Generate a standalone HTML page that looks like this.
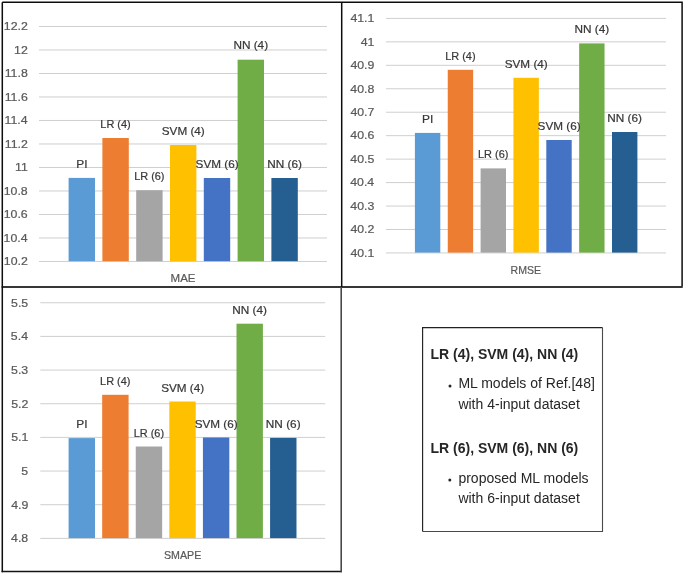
<!DOCTYPE html>
<html><head><meta charset="utf-8"><style>
html,body{margin:0;padding:0;background:#fff;width:685px;height:574px;overflow:hidden}
svg{display:block;font-family:"Liberation Sans",sans-serif;will-change:transform}
</style></head><body>
<svg width="685" height="574" viewBox="0 0 685 574">
<rect width="685" height="574" fill="#fff"/>
<line x1="39" x2="327" y1="26.48" y2="26.48" stroke="#CFCFCF" stroke-width="1"/>
<line x1="39" x2="327" y1="49.98" y2="49.98" stroke="#CFCFCF" stroke-width="1"/>
<line x1="39" x2="327" y1="73.48" y2="73.48" stroke="#CFCFCF" stroke-width="1"/>
<line x1="39" x2="327" y1="96.98" y2="96.98" stroke="#CFCFCF" stroke-width="1"/>
<line x1="39" x2="327" y1="120.48" y2="120.48" stroke="#CFCFCF" stroke-width="1"/>
<line x1="39" x2="327" y1="143.98" y2="143.98" stroke="#CFCFCF" stroke-width="1"/>
<line x1="39" x2="327" y1="167.48" y2="167.48" stroke="#CFCFCF" stroke-width="1"/>
<line x1="39" x2="327" y1="190.98" y2="190.98" stroke="#CFCFCF" stroke-width="1"/>
<line x1="39" x2="327" y1="214.48" y2="214.48" stroke="#CFCFCF" stroke-width="1"/>
<line x1="39" x2="327" y1="237.98" y2="237.98" stroke="#CFCFCF" stroke-width="1"/>
<line x1="39" x2="327" y1="261.48" y2="261.48" stroke="#CFCFCF" stroke-width="1"/>
<text x="3.82" y="30.28" font-size="11.8" fill="#595959" stroke="#595959" stroke-width="0.22" textLength="24" lengthAdjust="spacingAndGlyphs">12.2</text>
<text x="14.12" y="53.78" font-size="11.8" fill="#595959" stroke="#595959" stroke-width="0.22" textLength="13.72" lengthAdjust="spacingAndGlyphs">12</text>
<text x="4.68" y="77.28" font-size="11.8" fill="#595959" stroke="#595959" stroke-width="0.22" textLength="23.09" lengthAdjust="spacingAndGlyphs">11.8</text>
<text x="4.68" y="100.78" font-size="11.8" fill="#595959" stroke="#595959" stroke-width="0.22" textLength="23.09" lengthAdjust="spacingAndGlyphs">11.6</text>
<text x="4.47" y="124.28" font-size="11.8" fill="#595959" stroke="#595959" stroke-width="0.22" textLength="23.09" lengthAdjust="spacingAndGlyphs">11.4</text>
<text x="4.79" y="147.78" font-size="11.8" fill="#595959" stroke="#595959" stroke-width="0.22" textLength="23.09" lengthAdjust="spacingAndGlyphs">11.2</text>
<text x="14.98" y="171.28" font-size="11.8" fill="#595959" stroke="#595959" stroke-width="0.22" textLength="12.8" lengthAdjust="spacingAndGlyphs">11</text>
<text x="3.72" y="194.78" font-size="11.8" fill="#595959" stroke="#595959" stroke-width="0.22" textLength="24" lengthAdjust="spacingAndGlyphs">10.8</text>
<text x="3.72" y="218.28" font-size="11.8" fill="#595959" stroke="#595959" stroke-width="0.22" textLength="24" lengthAdjust="spacingAndGlyphs">10.6</text>
<text x="3.61" y="241.78" font-size="11.8" fill="#595959" stroke="#595959" stroke-width="0.22" textLength="24" lengthAdjust="spacingAndGlyphs">10.4</text>
<text x="3.82" y="265.28" font-size="11.8" fill="#595959" stroke="#595959" stroke-width="0.22" textLength="24" lengthAdjust="spacingAndGlyphs">10.2</text>
<rect x="68.6" y="177.9" width="26.4" height="83.3" fill="#5B9BD5"/>
<rect x="102.4" y="138" width="26.4" height="123.2" fill="#ED7D31"/>
<rect x="136.2" y="190.2" width="26.4" height="71" fill="#A5A5A5"/>
<rect x="170" y="145" width="26.4" height="116.2" fill="#FFC000"/>
<rect x="203.8" y="178" width="26.4" height="83.2" fill="#4472C4"/>
<rect x="237.6" y="59.7" width="26.4" height="201.5" fill="#70AD47"/>
<rect x="271.4" y="178" width="26.4" height="83.2" fill="#255E91"/>
<text x="76.27" y="168" font-size="11.8" fill="#383838" stroke="#383838" stroke-width="0.22" textLength="11.23" lengthAdjust="spacingAndGlyphs">PI</text>
<text x="100.34" y="127.8" font-size="11.8" fill="#383838" stroke="#383838" stroke-width="0.22" textLength="30.37" lengthAdjust="spacingAndGlyphs">LR (4)</text>
<text x="134.14" y="180.1" font-size="11.8" fill="#383838" stroke="#383838" stroke-width="0.22" textLength="30.37" lengthAdjust="spacingAndGlyphs">LR (6)</text>
<text x="161.79" y="135.1" font-size="11.8" fill="#383838" stroke="#383838" stroke-width="0.22" textLength="42.99" lengthAdjust="spacingAndGlyphs">SVM (4)</text>
<text x="195.59" y="168" font-size="11.8" fill="#383838" stroke="#383838" stroke-width="0.22" textLength="42.99" lengthAdjust="spacingAndGlyphs">SVM (6)</text>
<text x="233.38" y="49.1" font-size="11.8" fill="#383838" stroke="#383838" stroke-width="0.22" textLength="34.7" lengthAdjust="spacingAndGlyphs">NN (4)</text>
<text x="267.18" y="168" font-size="11.8" fill="#383838" stroke="#383838" stroke-width="0.22" textLength="34.7" lengthAdjust="spacingAndGlyphs">NN (6)</text>
<text x="170.6" y="281.9" font-size="11.8" fill="#595959" stroke="#595959" stroke-width="0.22" textLength="24.92" lengthAdjust="spacingAndGlyphs">MAE</text>
<line x1="386" x2="666" y1="18.4" y2="18.4" stroke="#CFCFCF" stroke-width="1"/>
<line x1="386" x2="666" y1="41.85" y2="41.85" stroke="#CFCFCF" stroke-width="1"/>
<line x1="386" x2="666" y1="65.31" y2="65.31" stroke="#CFCFCF" stroke-width="1"/>
<line x1="386" x2="666" y1="88.76" y2="88.76" stroke="#CFCFCF" stroke-width="1"/>
<line x1="386" x2="666" y1="112.22" y2="112.22" stroke="#CFCFCF" stroke-width="1"/>
<line x1="386" x2="666" y1="135.67" y2="135.67" stroke="#CFCFCF" stroke-width="1"/>
<line x1="386" x2="666" y1="159.13" y2="159.13" stroke="#CFCFCF" stroke-width="1"/>
<line x1="386" x2="666" y1="182.59" y2="182.59" stroke="#CFCFCF" stroke-width="1"/>
<line x1="386" x2="666" y1="206.04" y2="206.04" stroke="#CFCFCF" stroke-width="1"/>
<line x1="386" x2="666" y1="229.49" y2="229.49" stroke="#CFCFCF" stroke-width="1"/>
<line x1="386" x2="666" y1="252.95" y2="252.95" stroke="#CFCFCF" stroke-width="1"/>
<text x="350.42" y="22.2" font-size="11.8" fill="#595959" stroke="#595959" stroke-width="0.22" textLength="24" lengthAdjust="spacingAndGlyphs">41.1</text>
<text x="360.72" y="45.65" font-size="11.8" fill="#595959" stroke="#595959" stroke-width="0.22" textLength="13.72" lengthAdjust="spacingAndGlyphs">41</text>
<text x="350.42" y="69.11" font-size="11.8" fill="#595959" stroke="#595959" stroke-width="0.22" textLength="24" lengthAdjust="spacingAndGlyphs">40.9</text>
<text x="350.32" y="92.56" font-size="11.8" fill="#595959" stroke="#595959" stroke-width="0.22" textLength="24" lengthAdjust="spacingAndGlyphs">40.8</text>
<text x="350.42" y="116.02" font-size="11.8" fill="#595959" stroke="#595959" stroke-width="0.22" textLength="24" lengthAdjust="spacingAndGlyphs">40.7</text>
<text x="350.32" y="139.47" font-size="11.8" fill="#595959" stroke="#595959" stroke-width="0.22" textLength="24" lengthAdjust="spacingAndGlyphs">40.6</text>
<text x="350.32" y="162.93" font-size="11.8" fill="#595959" stroke="#595959" stroke-width="0.22" textLength="24" lengthAdjust="spacingAndGlyphs">40.5</text>
<text x="350.21" y="186.39" font-size="11.8" fill="#595959" stroke="#595959" stroke-width="0.22" textLength="24" lengthAdjust="spacingAndGlyphs">40.4</text>
<text x="350.32" y="209.84" font-size="11.8" fill="#595959" stroke="#595959" stroke-width="0.22" textLength="24" lengthAdjust="spacingAndGlyphs">40.3</text>
<text x="350.42" y="233.29" font-size="11.8" fill="#595959" stroke="#595959" stroke-width="0.22" textLength="24" lengthAdjust="spacingAndGlyphs">40.2</text>
<text x="350.42" y="256.75" font-size="11.8" fill="#595959" stroke="#595959" stroke-width="0.22" textLength="24" lengthAdjust="spacingAndGlyphs">40.1</text>
<rect x="414.9" y="132.9" width="25.4" height="119.7" fill="#5B9BD5"/>
<rect x="447.75" y="69.8" width="25.4" height="182.8" fill="#ED7D31"/>
<rect x="480.6" y="168.4" width="25.4" height="84.2" fill="#A5A5A5"/>
<rect x="513.45" y="77.8" width="25.4" height="174.8" fill="#FFC000"/>
<rect x="546.3" y="140" width="25.4" height="112.6" fill="#4472C4"/>
<rect x="579.15" y="43.4" width="25.4" height="209.2" fill="#70AD47"/>
<rect x="612" y="132" width="25.4" height="120.6" fill="#255E91"/>
<text x="422.07" y="122.9" font-size="11.8" fill="#383838" stroke="#383838" stroke-width="0.22" textLength="11.23" lengthAdjust="spacingAndGlyphs">PI</text>
<text x="445.19" y="59.8" font-size="11.8" fill="#383838" stroke="#383838" stroke-width="0.22" textLength="30.37" lengthAdjust="spacingAndGlyphs">LR (4)</text>
<text x="478.04" y="158.4" font-size="11.8" fill="#383838" stroke="#383838" stroke-width="0.22" textLength="30.37" lengthAdjust="spacingAndGlyphs">LR (6)</text>
<text x="504.74" y="67.8" font-size="11.8" fill="#383838" stroke="#383838" stroke-width="0.22" textLength="42.99" lengthAdjust="spacingAndGlyphs">SVM (4)</text>
<text x="537.59" y="130" font-size="11.8" fill="#383838" stroke="#383838" stroke-width="0.22" textLength="42.99" lengthAdjust="spacingAndGlyphs">SVM (6)</text>
<text x="574.43" y="33.4" font-size="11.8" fill="#383838" stroke="#383838" stroke-width="0.22" textLength="34.7" lengthAdjust="spacingAndGlyphs">NN (4)</text>
<text x="607.28" y="122" font-size="11.8" fill="#383838" stroke="#383838" stroke-width="0.22" textLength="34.7" lengthAdjust="spacingAndGlyphs">NN (6)</text>
<text x="510.62" y="273.65" font-size="11.8" fill="#595959" stroke="#595959" stroke-width="0.22" textLength="30.43" lengthAdjust="spacingAndGlyphs">RMSE</text>
<line x1="40.3" x2="325.2" y1="302.76" y2="302.76" stroke="#CFCFCF" stroke-width="1"/>
<line x1="40.3" x2="325.2" y1="336.42" y2="336.42" stroke="#CFCFCF" stroke-width="1"/>
<line x1="40.3" x2="325.2" y1="370.08" y2="370.08" stroke="#CFCFCF" stroke-width="1"/>
<line x1="40.3" x2="325.2" y1="403.74" y2="403.74" stroke="#CFCFCF" stroke-width="1"/>
<line x1="40.3" x2="325.2" y1="437.4" y2="437.4" stroke="#CFCFCF" stroke-width="1"/>
<line x1="40.3" x2="325.2" y1="471.06" y2="471.06" stroke="#CFCFCF" stroke-width="1"/>
<line x1="40.3" x2="325.2" y1="504.72" y2="504.72" stroke="#CFCFCF" stroke-width="1"/>
<line x1="40.3" x2="325.2" y1="538.38" y2="538.38" stroke="#CFCFCF" stroke-width="1"/>
<text x="11.08" y="306.56" font-size="11.8" fill="#595959" stroke="#595959" stroke-width="0.22" textLength="17.14" lengthAdjust="spacingAndGlyphs">5.5</text>
<text x="10.87" y="340.22" font-size="11.8" fill="#595959" stroke="#595959" stroke-width="0.22" textLength="17.14" lengthAdjust="spacingAndGlyphs">5.4</text>
<text x="11.08" y="373.88" font-size="11.8" fill="#595959" stroke="#595959" stroke-width="0.22" textLength="17.14" lengthAdjust="spacingAndGlyphs">5.3</text>
<text x="11.19" y="407.54" font-size="11.8" fill="#595959" stroke="#595959" stroke-width="0.22" textLength="17.14" lengthAdjust="spacingAndGlyphs">5.2</text>
<text x="11.19" y="441.2" font-size="11.8" fill="#595959" stroke="#595959" stroke-width="0.22" textLength="17.14" lengthAdjust="spacingAndGlyphs">5.1</text>
<text x="21.37" y="474.86" font-size="11.8" fill="#595959" stroke="#595959" stroke-width="0.22" textLength="6.86" lengthAdjust="spacingAndGlyphs">5</text>
<text x="11.19" y="508.52" font-size="11.8" fill="#595959" stroke="#595959" stroke-width="0.22" textLength="17.14" lengthAdjust="spacingAndGlyphs">4.9</text>
<text x="11.08" y="542.18" font-size="11.8" fill="#595959" stroke="#595959" stroke-width="0.22" textLength="17.14" lengthAdjust="spacingAndGlyphs">4.8</text>
<rect x="68.6" y="438.1" width="26.4" height="100" fill="#5B9BD5"/>
<rect x="102.18" y="394.8" width="26.4" height="143.3" fill="#ED7D31"/>
<rect x="135.76" y="446.5" width="26.4" height="91.6" fill="#A5A5A5"/>
<rect x="169.34" y="401.5" width="26.4" height="136.6" fill="#FFC000"/>
<rect x="202.92" y="437.5" width="26.4" height="100.6" fill="#4472C4"/>
<rect x="236.5" y="323.7" width="26.4" height="214.4" fill="#70AD47"/>
<rect x="270.08" y="437.9" width="26.4" height="100.2" fill="#255E91"/>
<text x="76.27" y="428.1" font-size="11.8" fill="#383838" stroke="#383838" stroke-width="0.22" textLength="11.23" lengthAdjust="spacingAndGlyphs">PI</text>
<text x="100.12" y="384.8" font-size="11.8" fill="#383838" stroke="#383838" stroke-width="0.22" textLength="30.37" lengthAdjust="spacingAndGlyphs">LR (4)</text>
<text x="133.7" y="436.5" font-size="11.8" fill="#383838" stroke="#383838" stroke-width="0.22" textLength="30.37" lengthAdjust="spacingAndGlyphs">LR (6)</text>
<text x="161.13" y="391.5" font-size="11.8" fill="#383838" stroke="#383838" stroke-width="0.22" textLength="42.99" lengthAdjust="spacingAndGlyphs">SVM (4)</text>
<text x="194.71" y="427.5" font-size="11.8" fill="#383838" stroke="#383838" stroke-width="0.22" textLength="42.99" lengthAdjust="spacingAndGlyphs">SVM (6)</text>
<text x="232.28" y="313.7" font-size="11.8" fill="#383838" stroke="#383838" stroke-width="0.22" textLength="34.7" lengthAdjust="spacingAndGlyphs">NN (4)</text>
<text x="265.86" y="427.9" font-size="11.8" fill="#383838" stroke="#383838" stroke-width="0.22" textLength="34.7" lengthAdjust="spacingAndGlyphs">NN (6)</text>
<text x="163.91" y="558.76" font-size="11.8" fill="#595959" stroke="#595959" stroke-width="0.22" textLength="37.35" lengthAdjust="spacingAndGlyphs">SMAPE</text>
<path d="M2.3 2.3 H682.1 V286.8" fill="none" stroke="#0d0d0d" stroke-width="1.5"/>
<line x1="1.6" x2="682.7" y1="287" y2="287" stroke="#363636" stroke-width="1.9"/>
<line x1="341.7" x2="341.7" y1="2.3" y2="287" stroke="#0d0d0d" stroke-width="1.5"/>
<path d="M2.3 2.3 V572.3" fill="none" stroke="#0d0d0d" stroke-width="1.5"/>
<path d="M1.6 571.55 H342" fill="none" stroke="#141414" stroke-width="1.6"/>
<path d="M341.2 287 V572.3" fill="none" stroke="#484848" stroke-width="1.6"/>
<path d="M422.6 531.5 V327.6 H602.5" fill="none" stroke="#222" stroke-width="1.15"/><path d="M602.5 327.6 V531.5 H422.6" fill="none" stroke="#4a4a4a" stroke-width="1.1"/>
<text x="430.5" y="358.7" font-size="14" font-weight="bold" fill="#262626">LR (4), SVM (4), NN (4)</text>
<circle cx="450" cy="386" r="1.5" fill="#262626"/>
<text x="458.4" y="387.6" font-size="14" fill="#262626">ML models of Ref.[48]</text>
<text x="458.4" y="409" font-size="14" fill="#262626">with 4-input dataset</text>
<text x="430.5" y="453.1" font-size="14" font-weight="bold" fill="#262626">LR (6), SVM (6), NN (6)</text>
<circle cx="449.8" cy="480" r="1.5" fill="#262626"/>
<text x="458.4" y="482.6" font-size="14" fill="#262626">proposed ML models</text>
<text x="458.4" y="502.6" font-size="14" fill="#262626">with 6-input dataset</text>
</svg>
</body></html>
